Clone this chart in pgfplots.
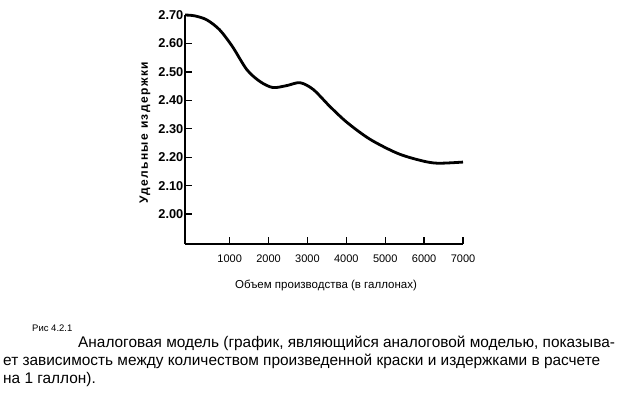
\documentclass[border=0pt]{standalone}
\usepackage{fontspec}
\setmainfont{Liberation Sans}
\newfontfamily\capfont{Liberation Sans}
\newfontfamily\ylabfont[LetterSpace=12]{Liberation Sans}
\usepackage{pgfplots}
\pgfplotsset{compat=1.18}
\begin{document}
\begin{tikzpicture}[x=1pt,y=1pt]
\useasboundingbox (0,0) rectangle (620,402);
\begin{axis}[
  at={(185pt,158pt)}, anchor=south west,
  scale only axis, width=278pt, height=229pt,
  xmin=-150, xmax=7000, ymin=1.895, ymax=2.70,
  axis lines=left,
  axis line style={-, line width=1.6pt},
  tick align=inside,
  major tick length=7pt,
  tick style={line width=1.3pt, black},
  xtick={1000,2000,3000,4000,5000,6000,7000},
  ytick={2.00,2.10,2.20,2.30,2.40,2.50,2.60,2.70},
  /pgf/number format/assume math mode=true,
  yticklabel style={font=\fontsize{12.8}{14}\selectfont\bfseries, inner sep=1.5pt, /pgf/number format/.cd, fixed, fixed zerofill, precision=2},
  xticklabel style={font=\fontsize{11}{13}\selectfont, yshift=-7pt, /pgf/number format/.cd, set thousands separator={}},
  scaled ticks=false,
  clip=false,
]
\addplot[smooth, line width=2.8pt, black] coordinates {
(-150,2.700) (100,2.697) (410,2.683) (740,2.648) (1070,2.589) (1440,2.508)
(1780,2.466) (2110,2.445) (2470,2.452) (2810,2.462) (3150,2.438) (3580,2.378)
(4020,2.322) (4610,2.263) (5310,2.214) (5900,2.189) (6340,2.179) (7000,2.183)
};
\end{axis}
\node[anchor=base, font=\fontsize{11.5}{13}\selectfont] at (326,402-288) {Объем производства (в галлонах)};
\node[rotate=90, font=\fontsize{12}{14}\ylabfont\bfseries] at (145,402-133) {Удельные издержки};
\node[anchor=base west, inner sep=0pt, font=\fontsize{9.5}{11}\capfont] at (32,402-331) {Рис 4.2.1};
\node[anchor=base west, inner sep=0pt, font=\fontsize{15.4}{17}\capfont] at (78,402-347) {Аналоговая модель (график, являющийся аналоговой моделью, показыва-};
\node[anchor=base west, inner sep=0pt, font=\fontsize{15.4}{17}\capfont] at (3,402-365) {ет зависимость между количеством произведенной краски и издержками в расчете};
\node[anchor=base west, inner sep=0pt, font=\fontsize{15.4}{17}\capfont] at (3,402-383) {на 1 галлон).};
\end{tikzpicture}
\end{document}
